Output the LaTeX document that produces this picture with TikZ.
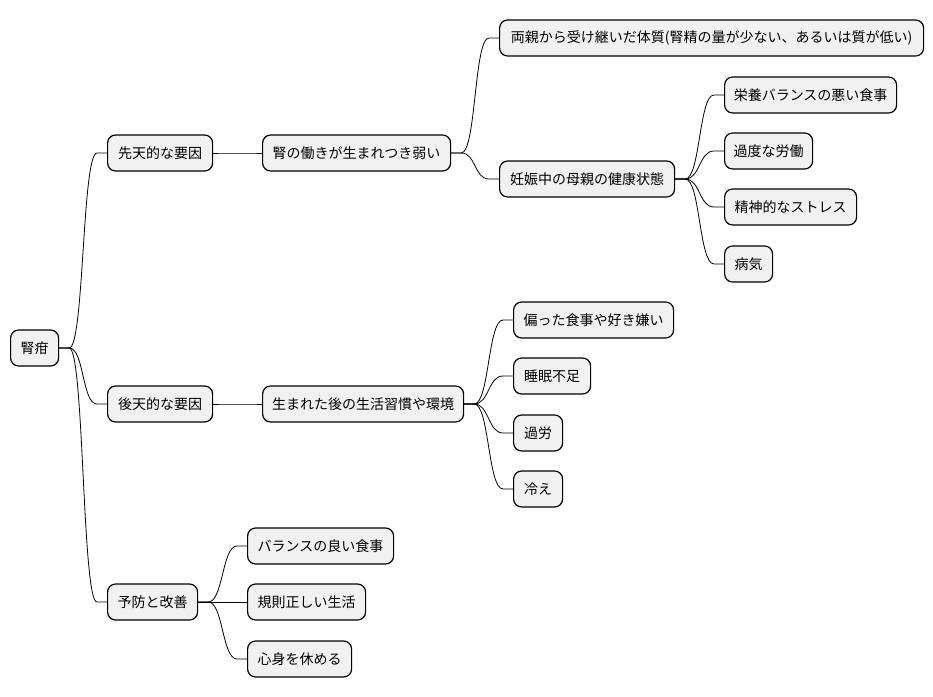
\documentclass[tikz,border=0pt]{standalone}
\usepackage{fontspec}
\setmainfont{Noto Sans CJK JP}
\usetikzlibrary{calc}
\tikzset{
  mmbox/.style={draw=black, line width=1.2pt, fill=boxgray, rounded corners=8pt,
    anchor=west, minimum height=36pt, inner xsep=0pt, inner ysep=0pt,
    font=\fontsize{14pt}{16pt}\selectfont},
  conn/.style={draw=black, line width=0.8pt}
}
\definecolor{boxgray}{HTML}{F1F1F1}
\newcommand\mmconn[2]{\draw[conn] (#1.east) -- ++(10,0) .. controls +(15,0) and +(-15,0) .. ($(#2.west)+(-10,0)$) -- (#2.west);}
\begin{document}
\begin{tikzpicture}[x=1pt,y=-1pt]
\path[use as bounding box, fill=white] (0,0) rectangle (933,696);
\node[mmbox, minimum width=48pt] (root) at (10,348) {腎疳};
\node[mmbox, minimum width=105pt] (a1) at (107,153) {先天的な要因};
\node[mmbox, minimum width=188pt] (a2) at (262,153) {腎の働きが生まれつき弱い};
\node[mmbox, minimum width=424pt] (a3) at (499,38) {両親から受け継いだ体質(腎精の量が少ない、あるいは質が低い)};
\node[mmbox, minimum width=175pt] (a4) at (499,179) {妊娠中の母親の健康状態};
\node[mmbox, minimum width=172pt] (a5) at (724,95) {栄養バランスの悪い食事};
\node[mmbox, minimum width=88pt] (a6) at (724,151) {過度な労働};
\node[mmbox, minimum width=132pt] (a7) at (724,207) {精神的なストレス};
\node[mmbox, minimum width=48pt] (a8) at (724,264) {病気};
\node[mmbox, minimum width=105pt] (b1) at (107,404) {後天的な要因};
\node[mmbox, minimum width=201pt] (b2) at (262,404) {生まれた後の生活習慣や環境};
\node[mmbox, minimum width=160pt] (b3) at (513,320) {偏った食事や好き嫌い};
\node[mmbox, minimum width=77pt] (b4) at (513,376) {睡眠不足};
\node[mmbox, minimum width=49pt] (b5) at (513,433) {過労};
\node[mmbox, minimum width=49pt] (b6) at (513,489) {冷え};
\node[mmbox, minimum width=90pt] (c1) at (107,602) {予防と改善};
\node[mmbox, minimum width=146pt] (c2) at (247,546) {バランスの良い食事};
\node[mmbox, minimum width=118pt] (c3) at (247,602) {規則正しい生活};
\node[mmbox, minimum width=104pt] (c4) at (247,659) {心身を休める};
\mmconn{root}{a1}
\mmconn{root}{b1}
\mmconn{root}{c1}
\mmconn{a1}{a2}
\mmconn{a2}{a3}
\mmconn{a2}{a4}
\mmconn{a4}{a5}
\mmconn{a4}{a6}
\mmconn{a4}{a7}
\mmconn{a4}{a8}
\mmconn{b1}{b2}
\mmconn{b2}{b3}
\mmconn{b2}{b4}
\mmconn{b2}{b5}
\mmconn{b2}{b6}
\mmconn{c1}{c2}
\mmconn{c1}{c3}
\mmconn{c1}{c4}
\end{tikzpicture}
\end{document}
